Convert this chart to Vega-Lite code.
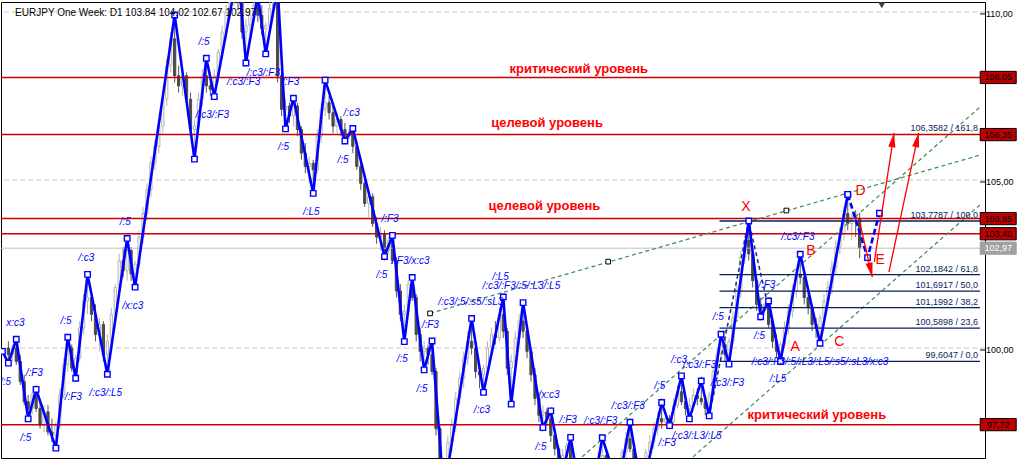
{
"$schema":"https://vega.github.io/schema/vega-lite/v6.json",
"width":984,"height":456,
"autosize":{"type":"none"},
"padding":{"left":1,"top":2,"right":37,"bottom":15},
"background":"#ffffff",
"config":{"view":{"stroke":"#000000","strokeWidth":1},"font":"Liberation Sans"},
"datasets":{
"c":[
{"i":-30,"o":100.0,"h":100.2,"l":99.55,"c":99.8},{"i":-29,"o":99.8,"h":100.1,"l":99.6,"c":100.0},{"i":-28,"o":100.0,"h":100.26,"l":99.5,"c":99.6},{"i":-27,"o":99.6,"h":99.8,"l":98.9,"c":99.0},{"i":-26,"o":99.0,"h":99.2,"l":98.3,"c":98.4},{"i":-25,"o":98.4,"h":98.6,"l":97.89,"c":98.2},{"i":-24,"o":98.2,"h":98.7,"l":98.0,"c":98.6},{"i":-23,"o":98.6,"h":98.77,"l":98.1,"c":98.2},{"i":-22,"o":98.2,"h":98.4,"l":97.6,"c":97.7},{"i":-21,"o":97.7,"h":98.3,"l":97.5,"c":98.1},
{"i":-20,"o":98.1,"h":98.3,"l":97.4,"c":97.5},{"i":-19,"o":97.5,"h":97.9,"l":97.2,"c":97.4},{"i":-18,"o":97.4,"h":97.8,"l":97.02,"c":97.7},{"i":-17,"o":97.7,"h":98.8,"l":97.6,"c":98.6},{"i":-16,"o":98.6,"h":99.7,"l":98.5,"c":99.5},{"i":-15,"o":99.5,"h":100.32,"l":99.3,"c":100.0},{"i":-14,"o":100.0,"h":100.1,"l":99.3,"c":99.4},{"i":-13,"o":99.4,"h":99.8,"l":99.1,"c":99.7},{"i":-12,"o":99.7,"h":100.8,"l":99.6,"c":100.6},{"i":-11,"o":100.6,"h":101.6,"l":100.4,"c":101.4},
{"i":-10,"o":101.4,"h":102.19,"l":101.0,"c":101.5},{"i":-9,"o":101.5,"h":101.6,"l":100.8,"c":101.0},{"i":-8,"o":101.0,"h":101.3,"l":100.2,"c":100.4},{"i":-7,"o":100.4,"h":100.9,"l":99.9,"c":100.7},{"i":-6,"o":100.7,"h":100.8,"l":99.6,"c":99.8},{"i":-5,"o":99.8,"h":100.4,"l":99.22,"c":100.2},{"i":-4,"o":100.2,"h":101.2,"l":100.0,"c":101.0},{"i":-3,"o":101.0,"h":101.9,"l":100.8,"c":101.8},{"i":-2,"o":101.8,"h":102.8,"l":101.6,"c":102.6},{"i":-1,"o":102.6,"h":103.0,"l":102.1,"c":102.3},
{"i":0,"o":102.3,"h":103.26,"l":102.0,"c":102.9},{"i":1,"o":102.9,"h":103.0,"l":102.0,"c":102.2},{"i":2,"o":102.2,"h":102.6,"l":101.81,"c":102.5},{"i":3,"o":102.5,"h":103.5,"l":102.4,"c":103.3},{"i":4,"o":103.3,"h":104.2,"l":103.1,"c":104.0},{"i":5,"o":104.0,"h":104.9,"l":103.8,"c":104.7},{"i":6,"o":104.7,"h":105.7,"l":104.5,"c":105.5},{"i":7,"o":105.5,"h":106.2,"l":105.3,"c":106.0},{"i":8,"o":106.0,"h":106.8,"l":105.8,"c":106.6},{"i":9,"o":106.6,"h":107.6,"l":106.4,"c":107.4},
{"i":10,"o":107.4,"h":108.6,"l":107.2,"c":108.4},{"i":11,"o":108.4,"h":109.4,"l":108.2,"c":109.2},{"i":12,"o":109.2,"h":109.91,"l":107.9,"c":108.1},{"i":13,"o":108.1,"h":108.4,"l":107.6,"c":107.8},{"i":14,"o":107.8,"h":108.3,"l":107.5,"c":108.1},{"i":15,"o":108.1,"h":108.2,"l":107.2,"c":107.4},{"i":16,"o":107.4,"h":107.6,"l":106.3,"c":106.5},{"i":17,"o":106.5,"h":106.8,"l":105.62,"c":106.6},{"i":18,"o":106.6,"h":107.6,"l":106.4,"c":107.4},{"i":19,"o":107.4,"h":108.3,"l":107.2,"c":108.1},
{"i":20,"o":108.1,"h":108.62,"l":107.6,"c":107.8},{"i":21,"o":107.8,"h":108.0,"l":107.5,"c":107.7},{"i":22,"o":107.7,"h":108.3,"l":107.48,"c":108.1},{"i":23,"o":108.1,"h":108.9,"l":107.9,"c":108.8},{"i":24,"o":108.8,"h":109.6,"l":108.6,"c":109.4},{"i":25,"o":109.4,"h":110.2,"l":109.2,"c":110.0},{"i":26,"o":110.0,"h":110.8,"l":109.8,"c":110.6},{"i":27,"o":110.6,"h":111.1,"l":110.2,"c":110.9},{"i":28,"o":110.9,"h":111.26,"l":110.1,"c":110.3},{"i":29,"o":110.3,"h":110.5,"l":109.2,"c":109.4},
{"i":30,"o":109.4,"h":109.8,"l":108.48,"c":109.6},{"i":31,"o":109.6,"h":110.1,"l":109.3,"c":109.9},{"i":32,"o":109.9,"h":110.3,"l":109.6,"c":110.2},{"i":33,"o":110.2,"h":110.5,"l":109.7,"c":109.9},{"i":34,"o":109.9,"h":110.2,"l":109.3,"c":109.5},{"i":35,"o":109.5,"h":109.7,"l":108.75,"c":109.6},{"i":36,"o":109.6,"h":110.3,"l":109.4,"c":110.1},{"i":37,"o":110.1,"h":110.6,"l":109.9,"c":110.4},{"i":38,"o":110.4,"h":110.74,"l":107.9,"c":108.1},{"i":39,"o":108.1,"h":108.2,"l":106.9,"c":107.1},
{"i":40,"o":107.1,"h":107.4,"l":106.52,"c":107.2},{"i":41,"o":107.2,"h":107.3,"l":106.7,"c":106.9},{"i":42,"o":106.9,"h":107.43,"l":106.6,"c":107.2},{"i":43,"o":107.2,"h":107.3,"l":106.3,"c":106.5},{"i":44,"o":106.5,"h":106.6,"l":105.6,"c":105.8},{"i":45,"o":105.8,"h":106.1,"l":105.2,"c":105.4},{"i":46,"o":105.4,"h":105.7,"l":104.9,"c":105.5},{"i":47,"o":105.5,"h":105.6,"l":104.6,"c":105.3},{"i":48,"o":105.3,"h":106.5,"l":105.2,"c":106.3},{"i":49,"o":106.3,"h":107.3,"l":106.1,"c":107.1},
{"i":50,"o":107.1,"h":107.97,"l":106.9,"c":107.3},{"i":51,"o":107.3,"h":107.5,"l":106.8,"c":107.0},{"i":52,"o":107.0,"h":107.2,"l":106.4,"c":106.6},{"i":53,"o":106.6,"h":107.0,"l":106.4,"c":106.8},{"i":54,"o":106.8,"h":106.9,"l":106.3,"c":106.5},{"i":55,"o":106.5,"h":106.7,"l":106.16,"c":106.3},{"i":56,"o":106.3,"h":106.5,"l":106.2,"c":106.4},{"i":57,"o":106.4,"h":106.53,"l":105.8,"c":106.0},{"i":58,"o":106.0,"h":106.1,"l":105.3,"c":105.4},{"i":59,"o":105.4,"h":105.6,"l":104.7,"c":104.9},
{"i":60,"o":104.9,"h":105.1,"l":104.2,"c":104.3},{"i":61,"o":104.3,"h":104.7,"l":103.9,"c":104.5},{"i":62,"o":104.5,"h":104.6,"l":103.6,"c":103.7},{"i":63,"o":103.7,"h":103.9,"l":103.1,"c":103.3},{"i":64,"o":103.3,"h":103.6,"l":102.9,"c":103.4},{"i":65,"o":103.4,"h":103.5,"l":102.72,"c":102.9},{"i":66,"o":102.9,"h":103.3,"l":102.8,"c":103.2},{"i":67,"o":103.2,"h":103.35,"l":102.5,"c":102.6},{"i":68,"o":102.6,"h":102.7,"l":101.5,"c":101.7},{"i":69,"o":101.7,"h":101.9,"l":100.8,"c":101.0},
{"i":70,"o":101.0,"h":101.3,"l":100.19,"c":101.1},{"i":71,"o":101.1,"h":102.0,"l":101.0,"c":101.9},{"i":72,"o":101.9,"h":102.1,"l":101.4,"c":101.5},{"i":73,"o":101.5,"h":101.6,"l":100.2,"c":100.4},{"i":74,"o":100.4,"h":100.6,"l":99.6,"c":99.9},{"i":75,"o":99.9,"h":100.2,"l":99.35,"c":100.0},{"i":76,"o":100.0,"h":100.1,"l":99.5,"c":99.8},{"i":77,"o":99.8,"h":100.21,"l":99.2,"c":99.3},{"i":78,"o":99.3,"h":99.4,"l":97.4,"c":97.6},{"i":79,"o":97.6,"h":97.7,"l":96.0,"c":96.3},
{"i":80,"o":96.3,"h":96.6,"l":95.69,"c":96.4},{"i":81,"o":96.4,"h":97.4,"l":96.2,"c":97.2},{"i":82,"o":97.2,"h":97.9,"l":96.9,"c":97.7},{"i":83,"o":97.7,"h":98.7,"l":97.5,"c":98.5},{"i":84,"o":98.5,"h":99.3,"l":98.3,"c":99.1},{"i":85,"o":99.1,"h":99.9,"l":98.8,"c":99.7},{"i":86,"o":99.7,"h":100.5,"l":99.5,"c":100.2},{"i":87,"o":100.2,"h":100.88,"l":99.8,"c":100.0},{"i":88,"o":100.0,"h":100.2,"l":99.1,"c":99.3},{"i":89,"o":99.3,"h":99.5,"l":98.8,"c":99.2},
{"i":90,"o":99.2,"h":99.5,"l":98.68,"c":99.4},{"i":91,"o":99.4,"h":100.2,"l":99.3,"c":100.0},{"i":92,"o":100.0,"h":100.6,"l":99.8,"c":100.4},{"i":93,"o":100.4,"h":100.8,"l":100.1,"c":100.3},{"i":94,"o":100.3,"h":101.2,"l":100.2,"c":101.0},{"i":95,"o":101.0,"h":101.52,"l":100.3,"c":100.5},{"i":96,"o":100.5,"h":100.6,"l":99.2,"c":99.4},{"i":97,"o":99.4,"h":99.8,"l":98.33,"c":99.6},{"i":98,"o":99.6,"h":100.5,"l":99.5,"c":100.3},{"i":99,"o":100.3,"h":101.0,"l":100.1,"c":100.8},
{"i":100,"o":100.8,"h":101.35,"l":100.3,"c":100.5},{"i":101,"o":100.5,"h":100.7,"l":99.7,"c":99.9},{"i":102,"o":99.9,"h":100.0,"l":99.0,"c":99.2},{"i":103,"o":99.2,"h":99.4,"l":98.3,"c":98.5},{"i":104,"o":98.5,"h":98.7,"l":97.8,"c":98.0},{"i":105,"o":98.0,"h":98.3,"l":97.63,"c":98.1},{"i":106,"o":98.1,"h":98.2,"l":97.7,"c":97.9},{"i":107,"o":97.9,"h":98.13,"l":97.2,"c":97.4},{"i":108,"o":97.4,"h":97.6,"l":96.8,"c":97.0},{"i":109,"o":97.0,"h":97.1,"l":96.4,"c":96.6},
{"i":110,"o":96.6,"h":97.0,"l":96.28,"c":96.8},{"i":111,"o":96.8,"h":97.2,"l":96.7,"c":97.1},{"i":112,"o":97.1,"h":97.34,"l":96.5,"c":96.6},{"i":113,"o":96.6,"h":96.7,"l":95.8,"c":96.0},{"i":114,"o":96.0,"h":96.2,"l":95.2,"c":95.4},{"i":115,"o":95.4,"h":95.6,"l":94.8,"c":95.0},{"i":116,"o":95.0,"h":95.2,"l":94.59,"c":94.9},{"i":117,"o":94.9,"h":95.7,"l":94.8,"c":95.5},{"i":118,"o":95.5,"h":96.3,"l":95.3,"c":96.1},{"i":119,"o":96.1,"h":96.9,"l":95.9,"c":96.7},
{"i":120,"o":96.7,"h":97.33,"l":96.5,"c":96.8},{"i":121,"o":96.8,"h":96.9,"l":96.1,"c":96.3},{"i":122,"o":96.3,"h":96.5,"l":95.9,"c":96.2},{"i":123,"o":96.2,"h":96.4,"l":95.9,"c":96.0},{"i":124,"o":96.0,"h":96.4,"l":95.87,"c":96.3},{"i":125,"o":96.3,"h":97.0,"l":96.2,"c":96.9},{"i":126,"o":96.9,"h":97.5,"l":96.7,"c":97.3},{"i":127,"o":97.3,"h":97.79,"l":96.9,"c":97.0},{"i":128,"o":97.0,"h":97.1,"l":96.3,"c":96.5},{"i":129,"o":96.5,"h":96.6,"l":95.9,"c":96.1},
{"i":130,"o":96.1,"h":96.5,"l":95.72,"c":96.4},{"i":131,"o":96.4,"h":97.0,"l":96.3,"c":96.9},{"i":132,"o":96.9,"h":97.4,"l":96.7,"c":97.2},{"i":133,"o":97.2,"h":97.8,"l":97.0,"c":97.6},{"i":134,"o":97.6,"h":98.1,"l":97.4,"c":97.9},{"i":135,"o":97.9,"h":98.38,"l":97.6,"c":97.8},{"i":136,"o":97.8,"h":98.1,"l":97.7,"c":97.9},{"i":137,"o":97.9,"h":98.0,"l":97.69,"c":97.8},{"i":138,"o":97.8,"h":98.5,"l":97.7,"c":98.3},{"i":139,"o":98.3,"h":98.9,"l":98.2,"c":98.7},
{"i":140,"o":98.7,"h":99.17,"l":98.3,"c":98.4},{"i":141,"o":98.4,"h":98.6,"l":98.0,"c":98.2},{"i":142,"o":98.2,"h":98.5,"l":97.89,"c":98.3},{"i":143,"o":98.3,"h":98.8,"l":98.2,"c":98.6},{"i":144,"o":98.6,"h":98.8,"l":98.3,"c":98.5},{"i":145,"o":98.5,"h":99.02,"l":98.3,"c":98.4},{"i":146,"o":98.4,"h":98.5,"l":98.0,"c":98.2},{"i":147,"o":98.2,"h":98.7,"l":97.98,"c":98.6},{"i":148,"o":98.6,"h":99.5,"l":98.5,"c":99.3},{"i":149,"o":99.3,"h":100.0,"l":99.1,"c":99.8},
{"i":150,"o":99.8,"h":100.41,"l":99.6,"c":100.1},{"i":151,"o":100.1,"h":100.3,"l":99.6,"c":99.8},{"i":152,"o":99.8,"h":100.3,"l":99.52,"c":100.2},{"i":153,"o":100.2,"h":101.1,"l":100.1,"c":100.9},{"i":154,"o":100.9,"h":101.9,"l":100.8,"c":101.7},{"i":155,"o":101.7,"h":102.9,"l":101.5,"c":102.7},{"i":156,"o":102.7,"h":103.4,"l":102.5,"c":103.2},{"i":157,"o":103.2,"h":103.78,"l":102.6,"c":102.8},{"i":158,"o":102.8,"h":103.0,"l":101.8,"c":102.0},{"i":159,"o":102.0,"h":102.1,"l":101.1,"c":101.3},
{"i":160,"o":101.3,"h":101.5,"l":100.93,"c":101.1},{"i":161,"o":101.1,"h":101.35,"l":101.0,"c":101.3},{"i":162,"o":101.3,"h":101.4,"l":100.6,"c":100.7},{"i":163,"o":100.7,"h":100.9,"l":100.0,"c":100.2},{"i":164,"o":100.2,"h":100.4,"l":99.7,"c":99.9},{"i":165,"o":99.9,"h":100.2,"l":99.6,"c":100.1},{"i":166,"o":100.1,"h":100.8,"l":100.0,"c":100.6},{"i":167,"o":100.6,"h":101.3,"l":100.4,"c":101.1},{"i":168,"o":101.1,"h":101.9,"l":100.9,"c":101.7},{"i":169,"o":101.7,"h":102.4,"l":101.5,"c":102.2},
{"i":170,"o":102.2,"h":102.79,"l":101.9,"c":102.1},{"i":171,"o":102.1,"h":102.3,"l":101.3,"c":101.5},{"i":172,"o":101.5,"h":101.8,"l":101.0,"c":101.2},{"i":173,"o":101.2,"h":101.3,"l":100.5,"c":100.7},{"i":174,"o":100.7,"h":100.9,"l":100.3,"c":100.6},{"i":175,"o":100.6,"h":101.0,"l":100.14,"c":100.9},{"i":176,"o":100.9,"h":101.6,"l":100.8,"c":101.4},{"i":177,"o":101.4,"h":102.0,"l":101.2,"c":101.8},{"i":178,"o":101.8,"h":102.6,"l":101.6,"c":102.4},{"i":179,"o":102.4,"h":103.2,"l":102.2,"c":103.0},
{"i":180,"o":103.0,"h":103.6,"l":102.8,"c":103.4},{"i":181,"o":103.4,"h":104.2,"l":103.2,"c":104.0},{"i":182,"o":104.0,"h":104.57,"l":103.5,"c":103.7},{"i":183,"o":103.7,"h":104.0,"l":103.2,"c":103.9},{"i":184,"o":103.9,"h":104.1,"l":103.3,"c":103.84},{"i":185,"o":103.84,"h":104.02,"l":102.67,"c":102.97}
],
"z":[
{"i":-31.5,"p":99.9,"s":"a"},{"i":-30,"p":99.55,"s":"a"},{"i":-28,"p":100.26,"s":"a"},{"i":-25,"p":97.89,"s":"a"},{"i":-23,"p":98.77,"s":"a"},{"i":-18,"p":97.02,"s":"a"},{"i":-15,"p":100.32,"s":"a"},{"i":-13,"p":99.1,"s":"a"},{"i":-10,"p":102.19,"s":"a"},{"i":-5,"p":99.22,"s":"a"},{"i":0,"p":103.26,"s":"a"},{"i":2,"p":101.81,"s":"a"},{"i":12,"p":109.91,"s":"a"},{"i":17,"p":105.62,"s":"a"},{"i":20,"p":108.62,"s":"a"},{"i":22,"p":107.48,"s":"a"},{"i":28,"p":111.26,"s":"a"},{"i":30,"p":108.48,"s":"a"},{"i":33,"p":110.5,"s":"a"},{"i":35,"p":108.75,"s":"a"},{"i":38,"p":110.74,"s":"a"},{"i":40,"p":106.52,"s":"a"},{"i":42,"p":107.43,"s":"a"},{"i":47,"p":104.6,"s":"a"},{"i":50,"p":107.97,"s":"a"},{"i":55,"p":106.16,"s":"a"},{"i":57,"p":106.53,"s":"a"},{"i":65,"p":102.72,"s":"a"},{"i":67,"p":103.35,"s":"a"},{"i":70,"p":100.19,"s":"a"},{"i":72,"p":102.1,"s":"a"},{"i":75,"p":99.35,"s":"a"},{"i":77,"p":100.21,"s":"a"},{"i":80,"p":95.69,"s":"a"},{"i":87,"p":100.88,"s":"a"},{"i":90,"p":98.68,"s":"a"},{"i":95,"p":101.52,"s":"a"},{"i":97,"p":98.33,"s":"a"},{"i":100,"p":101.35,"s":"a"},{"i":105,"p":97.63,"s":"a"},{"i":107,"p":98.13,"s":"a"},{"i":110,"p":96.28,"s":"a"},{"i":112,"p":97.34,"s":"a"},{"i":116,"p":94.59,"s":"a"},{"i":120,"p":97.33,"s":"a"},{"i":124,"p":95.87,"s":"a"},{"i":127,"p":97.79,"s":"a"},{"i":130,"p":95.72,"s":"a"},{"i":135,"p":98.38,"s":"a"},{"i":137,"p":97.69,"s":"a"},{"i":140,"p":99.17,"s":"a"},{"i":142,"p":97.89,"s":"a"},{"i":145,"p":99.02,"s":"a"},{"i":147,"p":97.98,"s":"a"},{"i":150,"p":100.41,"s":"a"},{"i":152,"p":99.52,"s":"a"},{"i":157,"p":103.78,"s":"a"},{"i":160,"p":100.93,"s":"a"},{"i":162,"p":101.4,"s":"a"},{"i":165,"p":99.6,"s":"a"},{"i":170,"p":102.79,"s":"a"},{"i":175,"p":100.14,"s":"a"},{"i":182,"p":104.57,"s":"a"},
{"i":182,"p":104.57,"s":"b"},{"i":187,"p":102.69,"s":"b"},{"i":190,"p":104.01,"s":"b"}
],
"bl":[
{"i":19.4,"p":109.1,"t":"/:5"},{"i":34.4,"p":108.19,"t":"/:c3/:F3"},{"i":29.4,"p":107.92,"t":"/:c3/:F3"},{"i":41.3,"p":107.91,"t":"/:F3"},{"i":21.5,"p":106.93,"t":"/:c3/:F3"},{"i":39.5,"p":105.98,"t":"/:5"},{"i":56.7,"p":106.99,"t":"/:c3"},{"i":46.5,"p":104.05,"t":"/:L5"},{"i":-0.45,"p":103.76,"t":"/:5"},{"i":-10.3,"p":102.69,"t":"/:c3"},{"i":1.4,"p":101.26,"t":"/x:c3"},{"i":-28.2,"p":100.75,"t":"x:c3"},{"i":-15.45,"p":100.81,"t":"/:5"},{"i":-23.45,"p":99.27,"t":"/:F3"},{"i":-30.7,"p":99.0,"t":"/:5"},{"i":-13.6,"p":98.55,"t":"/:F3"},{"i":-5.4,"p":98.67,"t":"/:c3/:L5"},{"i":-25.6,"p":97.33,"t":"/:5"},{"i":54.5,"p":105.59,"t":"/:5"},{"i":66.4,"p":103.84,"t":"/:F3"},{"i":71.55,"p":102.6,"t":"/:F3/x:c3"},{"i":64.3,"p":102.17,"t":"/:5"},{"i":94.3,"p":102.11,"t":"/:L5"},{"i":99.55,"p":101.85,"t":"/:c3/:F3/:5/:L3/:L5"},{"i":86.8,"p":101.38,"t":"/:c3/:5/:s5/:sL3"},{"i":76.55,"p":100.68,"t":"/:F3"},{"i":69.5,"p":99.66,"t":"/:5"},{"i":74.5,"p":98.77,"t":"/:5"},{"i":89.6,"p":98.16,"t":"/:c3"},{"i":106.55,"p":98.6,"t":"/x:c3"},{"i":104.5,"p":97.06,"t":"/:5"},{"i":111.4,"p":97.86,"t":"/:F3"},{"i":119.6,"p":97.84,"t":"/:c3/:F3"},{"i":126.55,"p":98.27,"t":"/:c3/:F3"},{"i":134.5,"p":98.87,"t":"/:5"},{"i":139.4,"p":99.64,"t":"/:c3"},{"i":144.55,"p":99.49,"t":"/:c3/:F3"},{"i":136.4,"p":97.17,"t":"/:F3"},{"i":143.9,"p":97.38,"t":"/:c3/:L3/:L5"},{"i":151.6,"p":98.97,"t":"/:c3/:F3"},{"i":149.3,"p":100.91,"t":"/:5"},{"i":159.7,"p":100.36,"t":"/:5"},{"i":175,"p":99.59,"t":"/:c3/:F3/:5/:L3/:L5/:s5/:sL3/x:c3"},{"i":164.4,"p":99.08,"t":"/:L5"},{"i":161.55,"p":101.87,"t":"/:F3"},{"i":169.4,"p":103.3,"t":"/:c3/:F3"}
],
"lv":[{"i":220,"p":108.05,"t":"108,05","k":"r"},{"i":220,"p":106.35,"t":"106,35","k":"r"},{"i":220,"p":103.85,"t":"103,85","k":"r"},{"i":220,"p":103.4,"t":"103,40","k":"r"},{"i":220,"p":97.72,"t":"97,72","k":"r"},{"i":220,"p":102.97,"t":"102,97","k":"g"}],
"yt":[{"i":215.4,"p":100,"t":"100,00"},{"i":215.4,"p":105,"t":"105,00"},{"i":215.4,"p":110,"t":"110,00"}],
"fib":[{"i":149.6,"i2":215.4,"p":106.3582,"t":"106,3582 / 161,8"},{"i":149.6,"i2":215.4,"p":103.7787,"t":"103,7787 / 100,0"},{"i":149.6,"i2":215.4,"p":102.1842,"t":"102,1842 / 61,8"},{"i":149.6,"i2":215.4,"p":101.6917,"t":"101,6917 / 50,0"},{"i":149.6,"i2":215.4,"p":101.1992,"t":"101,1992 / 38,2"},{"i":149.6,"i2":215.4,"p":100.5898,"t":"100,5898 / 23,6"},{"i":149.6,"i2":215.4,"p":99.6047,"t":"99,6047 / 0,0"}],
"gl":[{"i":76.5,"p":101.03,"i2":215.4,"p2":105.74},{"i":114.9,"p":96.76,"i2":215.4,"p2":107.17},{"i":142.9,"p":96.76,"i2":215.4,"p2":104.26}],
"sq":[{"i":76.5,"p":101.03},{"i":121.5,"p":102.57},{"i":166.5,"p":104.09}],
"nav":[{"i":147,"p":97.98},{"i":157,"p":103.78},{"i":165,"p":99.6}],
"arr":[{"a":1,"i":184.9,"p":103.81,"i2":188.2,"p2":102.11},{"a":2,"i":188.7,"p":102.56,"i2":193.7,"p2":106.4},{"a":3,"i":192.4,"p":102.26,"i2":199.9,"p2":106.4}],
"rt":[{"i":114.05,"p":108.29,"t":"критический уровень"},{"i":106.05,"p":106.69,"t":"целевой уровень"},{"i":105.4,"p":104.23,"t":"целевой уровень"},{"i":174.2,"p":98.01,"t":"критический уровень"}],
"rl":[{"i":156.25,"p":104.19,"t":"X"},{"i":168.7,"p":100.03,"t":"A"},{"i":172.7,"p":102.9,"t":"B"},{"i":179.85,"p":100.19,"t":"C"},{"i":185.25,"p":104.68,"t":"D"},{"i":190.2,"p":102.62,"t":"E"}],
"hd":[{"i":-28.3,"p":109.98,"t":"EURJPY One Week: D1 103.84 104.02 102.67 102.97"}],
"tri":[{"i":190.6,"p":110.2}]
},
"layer":[
{"data":{"name":"tri"},"mark":{"type":"point","shape":"triangle-down","size":50,"filled":true,"color":"#404040","opacity":1},
 "encoding":{
 "x":{"field":"i","type":"quantitative","scale":{"domain":[-30.6,215.4],"nice":false,"zero":false},
 "axis":{"title":null,"orient":"bottom","values":[-20,0,20,40,50,60,80,100,120,140,150,160,180,200],
 "labelExpr":"datum.value==0?'13.02.2012 0:00':datum.value==50?'23.04.2012 0:00':datum.value==100?'02.07.2012 0:00':datum.value==150?'10.09.2012 0:00':datum.value==200?'19.11.2012 0:00':''",
 "labelAlign":"left","labelOverlap":false,"labelFlush":false,"labelPadding":-3,"labelFontSize":9,"labelColor":"#000000","labelFont":"Liberation Sans",
 "domain":false,"tickColor":"#000000","tickSize":5,"tickOpacity":{"condition":{"test":"datum.value%50==0","value":1},"value":0},
 "grid":true,"gridColor":"#c8c8c8","gridDash":[5,3],"gridOpacity":{"condition":{"test":"datum.value%20==0","value":1},"value":0}}},
 "y":{"field":"p","type":"quantitative","scale":{"domain":[96.727,110.295],"nice":false,"zero":false},"axis":null}}},
{"data":{"name":"yt"},"mark":{"type":"rule","color":"#c8c8c8","strokeWidth":1,"strokeDash":[5,3]},
 "encoding":{"y":{"field":"p","type":"quantitative","scale":{"domain":[96.727,110.295],"nice":false,"zero":false},"axis":null}}},
{"data":{"name":"yt"},"mark":{"type":"point","shape":"M0,0L1,0","size":100,"filled":false,"stroke":"#000000","strokeWidth":1,"opacity":1,"yOffset":2},
 "encoding":{"x":{"field":"i","type":"quantitative","scale":{"domain":[-30.6,215.4],"nice":false,"zero":false},"axis":null},
 "y":{"field":"p","type":"quantitative","scale":{"domain":[96.727,110.295],"nice":false,"zero":false},"axis":null}}},
{"data":{"name":"yt"},"mark":{"type":"text","fontSize":9,"font":"Liberation Sans","color":"#000000","align":"left","baseline":"middle","dx":6,"dy":2},
 "encoding":{"x":{"field":"i","type":"quantitative","scale":{"domain":[-30.6,215.4],"nice":false,"zero":false},"axis":null},
 "y":{"field":"p","type":"quantitative","scale":{"domain":[96.727,110.295],"nice":false,"zero":false},"axis":null},"text":{"field":"t"}}},
{"data":{"name":"c"},"mark":{"type":"rule","strokeWidth":1,"clip":true},
 "encoding":{
 "x":{"field":"i","type":"quantitative","scale":{"domain":[-30.6,215.4],"nice":false,"zero":false},"axis":null},
 "y":{"field":"l","type":"quantitative","scale":{"domain":[96.727,110.295],"nice":false,"zero":false},"axis":null},
 "y2":{"field":"h"},
 "stroke":{"condition":{"test":"datum.c>=datum.o","value":"#b4b4b4"},"value":"#555555"}}},
{"data":{"name":"c"},"mark":{"type":"bar","width":2.2,"strokeWidth":1,"clip":true},
 "encoding":{
 "x":{"field":"i","type":"quantitative","scale":{"domain":[-30.6,215.4],"nice":false,"zero":false},"axis":null},
 "y":{"field":"o","type":"quantitative","scale":{"domain":[96.727,110.295],"nice":false,"zero":false},"axis":null},"y2":{"field":"c"},
 "fill":{"condition":{"test":"datum.c>=datum.o","value":"#ffffff"},"value":"#4a4a4a"},
 "stroke":{"condition":{"test":"datum.c>=datum.o","value":"#b4b4b4"},"value":"#4a4a4a"}}},
{"data":{"name":"lv"},"transform":[{"filter":"datum.k=='g'"}],"mark":{"type":"rule","color":"#c0c0c0","strokeWidth":1},
 "encoding":{"y":{"field":"p","type":"quantitative","scale":{"domain":[96.727,110.295],"nice":false,"zero":false},"axis":null}}},
{"data":{"name":"lv"},"transform":[{"filter":"datum.k=='r'"}],"mark":{"type":"rule","color":"#cc0000","strokeWidth":1.5},
 "encoding":{"y":{"field":"p","type":"quantitative","scale":{"domain":[96.727,110.295],"nice":false,"zero":false},"axis":null}}},
{"data":{"name":"gl"},"mark":{"type":"rule","color":"#3a8a5a","strokeWidth":1.2,"strokeDash":[4,3],"clip":true},
 "encoding":{"x":{"field":"i","type":"quantitative","scale":{"domain":[-30.6,215.4],"nice":false,"zero":false},"axis":null},
 "y":{"field":"p","type":"quantitative","scale":{"domain":[96.727,110.295],"nice":false,"zero":false},"axis":null},"x2":{"field":"i2"},"y2":{"field":"p2"}}},
{"data":{"name":"sq"},"mark":{"type":"point","shape":"square","size":22,"filled":true,"fill":"#ffffff","stroke":"#000000","strokeWidth":1,"opacity":1},
 "encoding":{"x":{"field":"i","type":"quantitative","scale":{"domain":[-30.6,215.4],"nice":false,"zero":false},"axis":null},
 "y":{"field":"p","type":"quantitative","scale":{"domain":[96.727,110.295],"nice":false,"zero":false},"axis":null}}},
{"data":{"name":"fib"},"transform":[{"filter":"datum.p<106"}],"mark":{"type":"rule","color":"#0a1e5a","strokeWidth":1.3},
 "encoding":{"x":{"field":"i","type":"quantitative","scale":{"domain":[-30.6,215.4],"nice":false,"zero":false},"axis":null},
 "y":{"field":"p","type":"quantitative","scale":{"domain":[96.727,110.295],"nice":false,"zero":false},"axis":null},"x2":{"field":"i2"}}},
{"data":{"name":"nav"},"mark":{"type":"line","color":"#1a2a80","strokeWidth":1.5,"strokeDash":[4,3]},
 "encoding":{"x":{"field":"i","type":"quantitative","scale":{"domain":[-30.6,215.4],"nice":false,"zero":false},"axis":null},
 "y":{"field":"p","type":"quantitative","scale":{"domain":[96.727,110.295],"nice":false,"zero":false},"axis":null}}},
{"data":{"name":"z"},"transform":[{"filter":"datum.s=='a'"}],"mark":{"type":"line","color":"#0000ff","strokeWidth":2.6,"clip":true},
 "encoding":{"x":{"field":"i","type":"quantitative","scale":{"domain":[-30.6,215.4],"nice":false,"zero":false},"axis":null},
 "y":{"field":"p","type":"quantitative","scale":{"domain":[96.727,110.295],"nice":false,"zero":false},"axis":null}}},
{"data":{"name":"z"},"transform":[{"filter":"datum.s=='b'"}],"mark":{"type":"line","color":"#0000ff","strokeWidth":2.6,"strokeDash":[6,3],"clip":true},
 "encoding":{"x":{"field":"i","type":"quantitative","scale":{"domain":[-30.6,215.4],"nice":false,"zero":false},"axis":null},
 "y":{"field":"p","type":"quantitative","scale":{"domain":[96.727,110.295],"nice":false,"zero":false},"axis":null}}},
{"data":{"name":"z"},"mark":{"type":"point","shape":"square","size":30,"filled":true,"fill":"#ffffff","stroke":"#0000ff","strokeWidth":1.4,"opacity":1,"clip":true},
 "encoding":{"x":{"field":"i","type":"quantitative","scale":{"domain":[-30.6,215.4],"nice":false,"zero":false},"axis":null},
 "y":{"field":"p","type":"quantitative","scale":{"domain":[96.727,110.295],"nice":false,"zero":false},"axis":null}}},
{"data":{"name":"bl"},"mark":{"type":"text","color":"#0000ff","fontSize":10,"fontStyle":"italic","font":"Liberation Sans","clip":true},
 "encoding":{"x":{"field":"i","type":"quantitative","scale":{"domain":[-30.6,215.4],"nice":false,"zero":false},"axis":null},
 "y":{"field":"p","type":"quantitative","scale":{"domain":[96.727,110.295],"nice":false,"zero":false},"axis":null},"text":{"field":"t"}}},
{"data":{"name":"arr"},"mark":{"type":"rule","color":"#ff0000","strokeWidth":1.3},
 "encoding":{"x":{"field":"i","type":"quantitative","scale":{"domain":[-30.6,215.4],"nice":false,"zero":false},"axis":null},
 "y":{"field":"p","type":"quantitative","scale":{"domain":[96.727,110.295],"nice":false,"zero":false},"axis":null},"x2":{"field":"i2"},"y2":{"field":"p2"}}},
{"data":{"name":"arr"},"transform":[{"filter":"datum.a==1"}],"mark":{"type":"point","shape":"M0,0L-0.3,1.2L0.3,1.2Z","size":576,"filled":true,"color":"#ff0000","opacity":1,"angle":167},
 "encoding":{"x":{"field":"i2","type":"quantitative","scale":{"domain":[-30.6,215.4],"nice":false,"zero":false},"axis":null},"y":{"field":"p2","type":"quantitative","scale":{"domain":[96.727,110.295],"nice":false,"zero":false},"axis":null}}},
{"data":{"name":"arr"},"transform":[{"filter":"datum.a==2"}],"mark":{"type":"point","shape":"M0,0L-0.3,1.2L0.3,1.2Z","size":576,"filled":true,"color":"#ff0000","opacity":1,"angle":9},
 "encoding":{"x":{"field":"i2","type":"quantitative","scale":{"domain":[-30.6,215.4],"nice":false,"zero":false},"axis":null},"y":{"field":"p2","type":"quantitative","scale":{"domain":[96.727,110.295],"nice":false,"zero":false},"axis":null}}},
{"data":{"name":"arr"},"transform":[{"filter":"datum.a==3"}],"mark":{"type":"point","shape":"M0,0L-0.3,1.2L0.3,1.2Z","size":576,"filled":true,"color":"#ff0000","opacity":1,"angle":12},
 "encoding":{"x":{"field":"i2","type":"quantitative","scale":{"domain":[-30.6,215.4],"nice":false,"zero":false},"axis":null},"y":{"field":"p2","type":"quantitative","scale":{"domain":[96.727,110.295],"nice":false,"zero":false},"axis":null}}},
{"data":{"name":"rt"},"mark":{"type":"text","color":"#ff0000","fontSize":13,"fontWeight":"bold","font":"Liberation Sans"},
 "encoding":{"x":{"field":"i","type":"quantitative","scale":{"domain":[-30.6,215.4],"nice":false,"zero":false},"axis":null},
 "y":{"field":"p","type":"quantitative","scale":{"domain":[96.727,110.295],"nice":false,"zero":false},"axis":null},"text":{"field":"t"}}},
{"data":{"name":"rl"},"mark":{"type":"text","color":"#ff0000","fontSize":14,"font":"Liberation Sans"},
 "encoding":{"x":{"field":"i","type":"quantitative","scale":{"domain":[-30.6,215.4],"nice":false,"zero":false},"axis":null},
 "y":{"field":"p","type":"quantitative","scale":{"domain":[96.727,110.295],"nice":false,"zero":false},"axis":null},"text":{"field":"t"}}},
{"data":{"name":"fib"},"mark":{"type":"text","color":"#0a1e5a","fontSize":9,"font":"Liberation Sans","align":"right","baseline":"bottom","dy":-1,"dx":-2},
 "encoding":{"x":{"field":"i2","type":"quantitative","scale":{"domain":[-30.6,215.4],"nice":false,"zero":false},"axis":null},
 "y":{"field":"p","type":"quantitative","scale":{"domain":[96.727,110.295],"nice":false,"zero":false},"axis":null},"text":{"field":"t"}}},
{"data":{"name":"lv"},"mark":{"type":"point","shape":"M-1,-0.34L1,-0.34L1,0.34L-1,0.34Z","size":1296,"filled":true,"strokeWidth":1,"opacity":1},
 "encoding":{"x":{"field":"i","type":"quantitative","scale":{"domain":[-30.6,215.4],"nice":false,"zero":false},"axis":null},
 "y":{"field":"p","type":"quantitative","scale":{"domain":[96.727,110.295],"nice":false,"zero":false},"axis":null},
 "fill":{"condition":{"test":"datum.k=='g'","value":"#a0a0a0"},"value":"#c00000"},
 "stroke":{"condition":{"test":"datum.k=='g'","value":"#a0a0a0"},"value":"#000000"}}},
{"data":{"name":"lv"},"mark":{"type":"text","fontSize":9,"font":"Liberation Sans","align":"center","baseline":"middle"},
 "encoding":{"x":{"field":"i","type":"quantitative","scale":{"domain":[-30.6,215.4],"nice":false,"zero":false},"axis":null},
 "y":{"field":"p","type":"quantitative","scale":{"domain":[96.727,110.295],"nice":false,"zero":false},"axis":null},"text":{"field":"t"},
 "color":{"condition":{"test":"datum.k=='g'","value":"#ffffff"},"value":"#000000"}}},
{"data":{"name":"hd"},"mark":{"type":"text","color":"#000000","fontSize":10,"font":"Liberation Sans","align":"left","baseline":"middle"},
 "encoding":{"x":{"field":"i","type":"quantitative","scale":{"domain":[-30.6,215.4],"nice":false,"zero":false},"axis":null},
 "y":{"field":"p","type":"quantitative","scale":{"domain":[96.727,110.295],"nice":false,"zero":false},"axis":null},"text":{"field":"t"}}}
]
}
